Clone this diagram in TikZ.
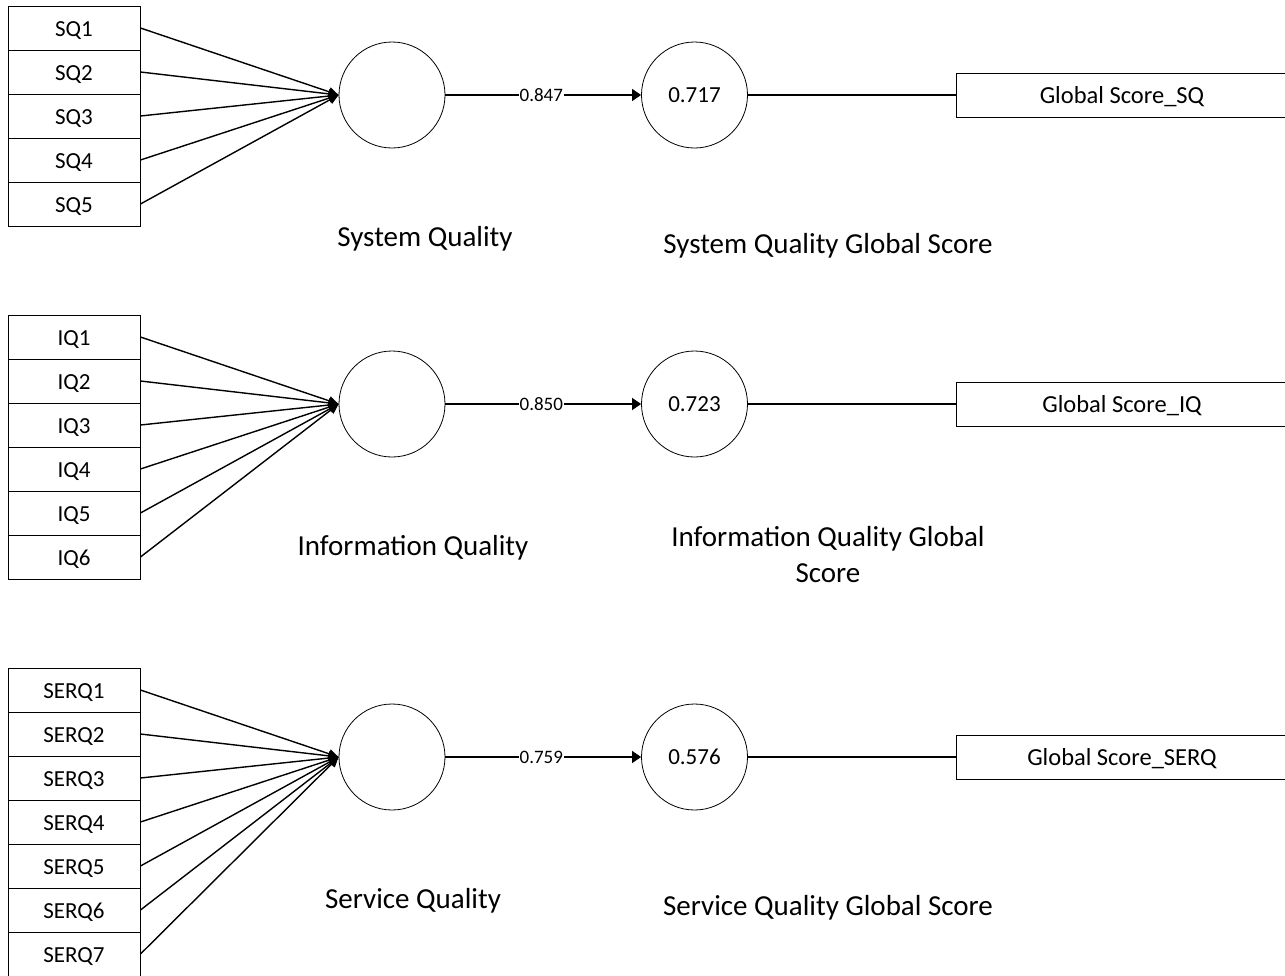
\documentclass[tikz,border=0pt]{standalone}
\usepackage{fontspec}
\setmainfont{Carlito}
\usetikzlibrary{arrows.meta}
\begin{document}
\begin{tikzpicture}[x=1pt,y=-1pt,
  item/.style={draw,line width=0.9pt,minimum width=132pt,minimum height=44pt,inner sep=0pt,text height=17pt,text depth=0pt,font=\fontsize{23}{26}\selectfont},
  lat/.style={draw,circle,line width=0.8pt,minimum size=106pt,inner sep=0pt,font=\fontsize{23}{26}\selectfont},
  gbox/.style={draw,line width=0.9pt,minimum width=332pt,minimum height=44pt,inner sep=0pt,text height=16pt,text depth=0pt,font=\fontsize{24.5}{28}\selectfont},
  fan/.style={line width=1.4pt,-{Triangle[length=10pt,width=9pt]}},
  conn/.style={line width=1.2pt},
  tip/.style={-{Triangle[length=9pt,width=12pt]}},
  big/.style={font=\fontsize{29}{36}\selectfont,align=center},
  coef/.style={fill=white,inner sep=1pt,font=\fontsize{19}{22}\selectfont}
]
\useasboundingbox (0,0) rectangle (1285,975);

% Block 1
\foreach \i [count=\k from 0] in {1,...,5} {
  \node[item] (sq\i) at (74,{28+44*\k}) {SQ\i};
}
\node[lat] (c1) at (392,95) {};
\node[lat] (g1) at (694.5,95) {0.717};
\node[gbox] (b1) at (1122,95) {Global Score\_SQ};
\foreach \i in {1,...,5} { \draw[fan] (sq\i.east) -- (c1.west); }
\draw[conn,tip] (c1.east) -- node[coef,pos=0.49] {0.847} (g1.west);
\draw[conn] (g1.east) -- (b1.west);
\node[big] (t1) at (425,239) {System Quality};
\node[big] (u1) at (828,246) {System Quality Global Score};

% Block 2
\foreach \i [count=\k from 0] in {1,...,6} {
  \node[item] (iq\i) at (74,{337+44*\k}) {IQ\i};
}
\node[lat] (c2) at (392,404) {};
\node[lat] (g2) at (694.5,404) {0.723};
\node[gbox] (b2) at (1122,404) {Global Score\_IQ};
\foreach \i in {1,...,6} { \draw[fan] (iq\i.east) -- (c2.west); }
\draw[conn,tip] (c2.east) -- node[coef,pos=0.49] {0.850} (g2.west);
\draw[conn] (g2.east) -- (b2.west);
\node[big] (t2) at (413,548) {Information Quality};
\node[big] (u2) at (828,555) {Information Quality Global\\Score};

% Block 3
\foreach \i [count=\k from 0] in {1,...,7} {
  \node[item] (se\i) at (74,{690+44*\k}) {SERQ\i};
}
\node[lat] (c3) at (392,757) {};
\node[lat] (g3) at (694.5,757) {0.576};
\node[gbox] (b3) at (1122,757) {Global Score\_SERQ};
\foreach \i in {1,...,7} { \draw[fan] (se\i.east) -- (c3.west); }
\draw[conn,tip] (c3.east) -- node[coef,pos=0.49] {0.759} (g3.west);
\draw[conn] (g3.east) -- (b3.west);
\node[big] (t3) at (413,901) {Service Quality};
\node[big] (u3) at (828,908) {Service Quality Global Score};
\end{tikzpicture}
\end{document}
